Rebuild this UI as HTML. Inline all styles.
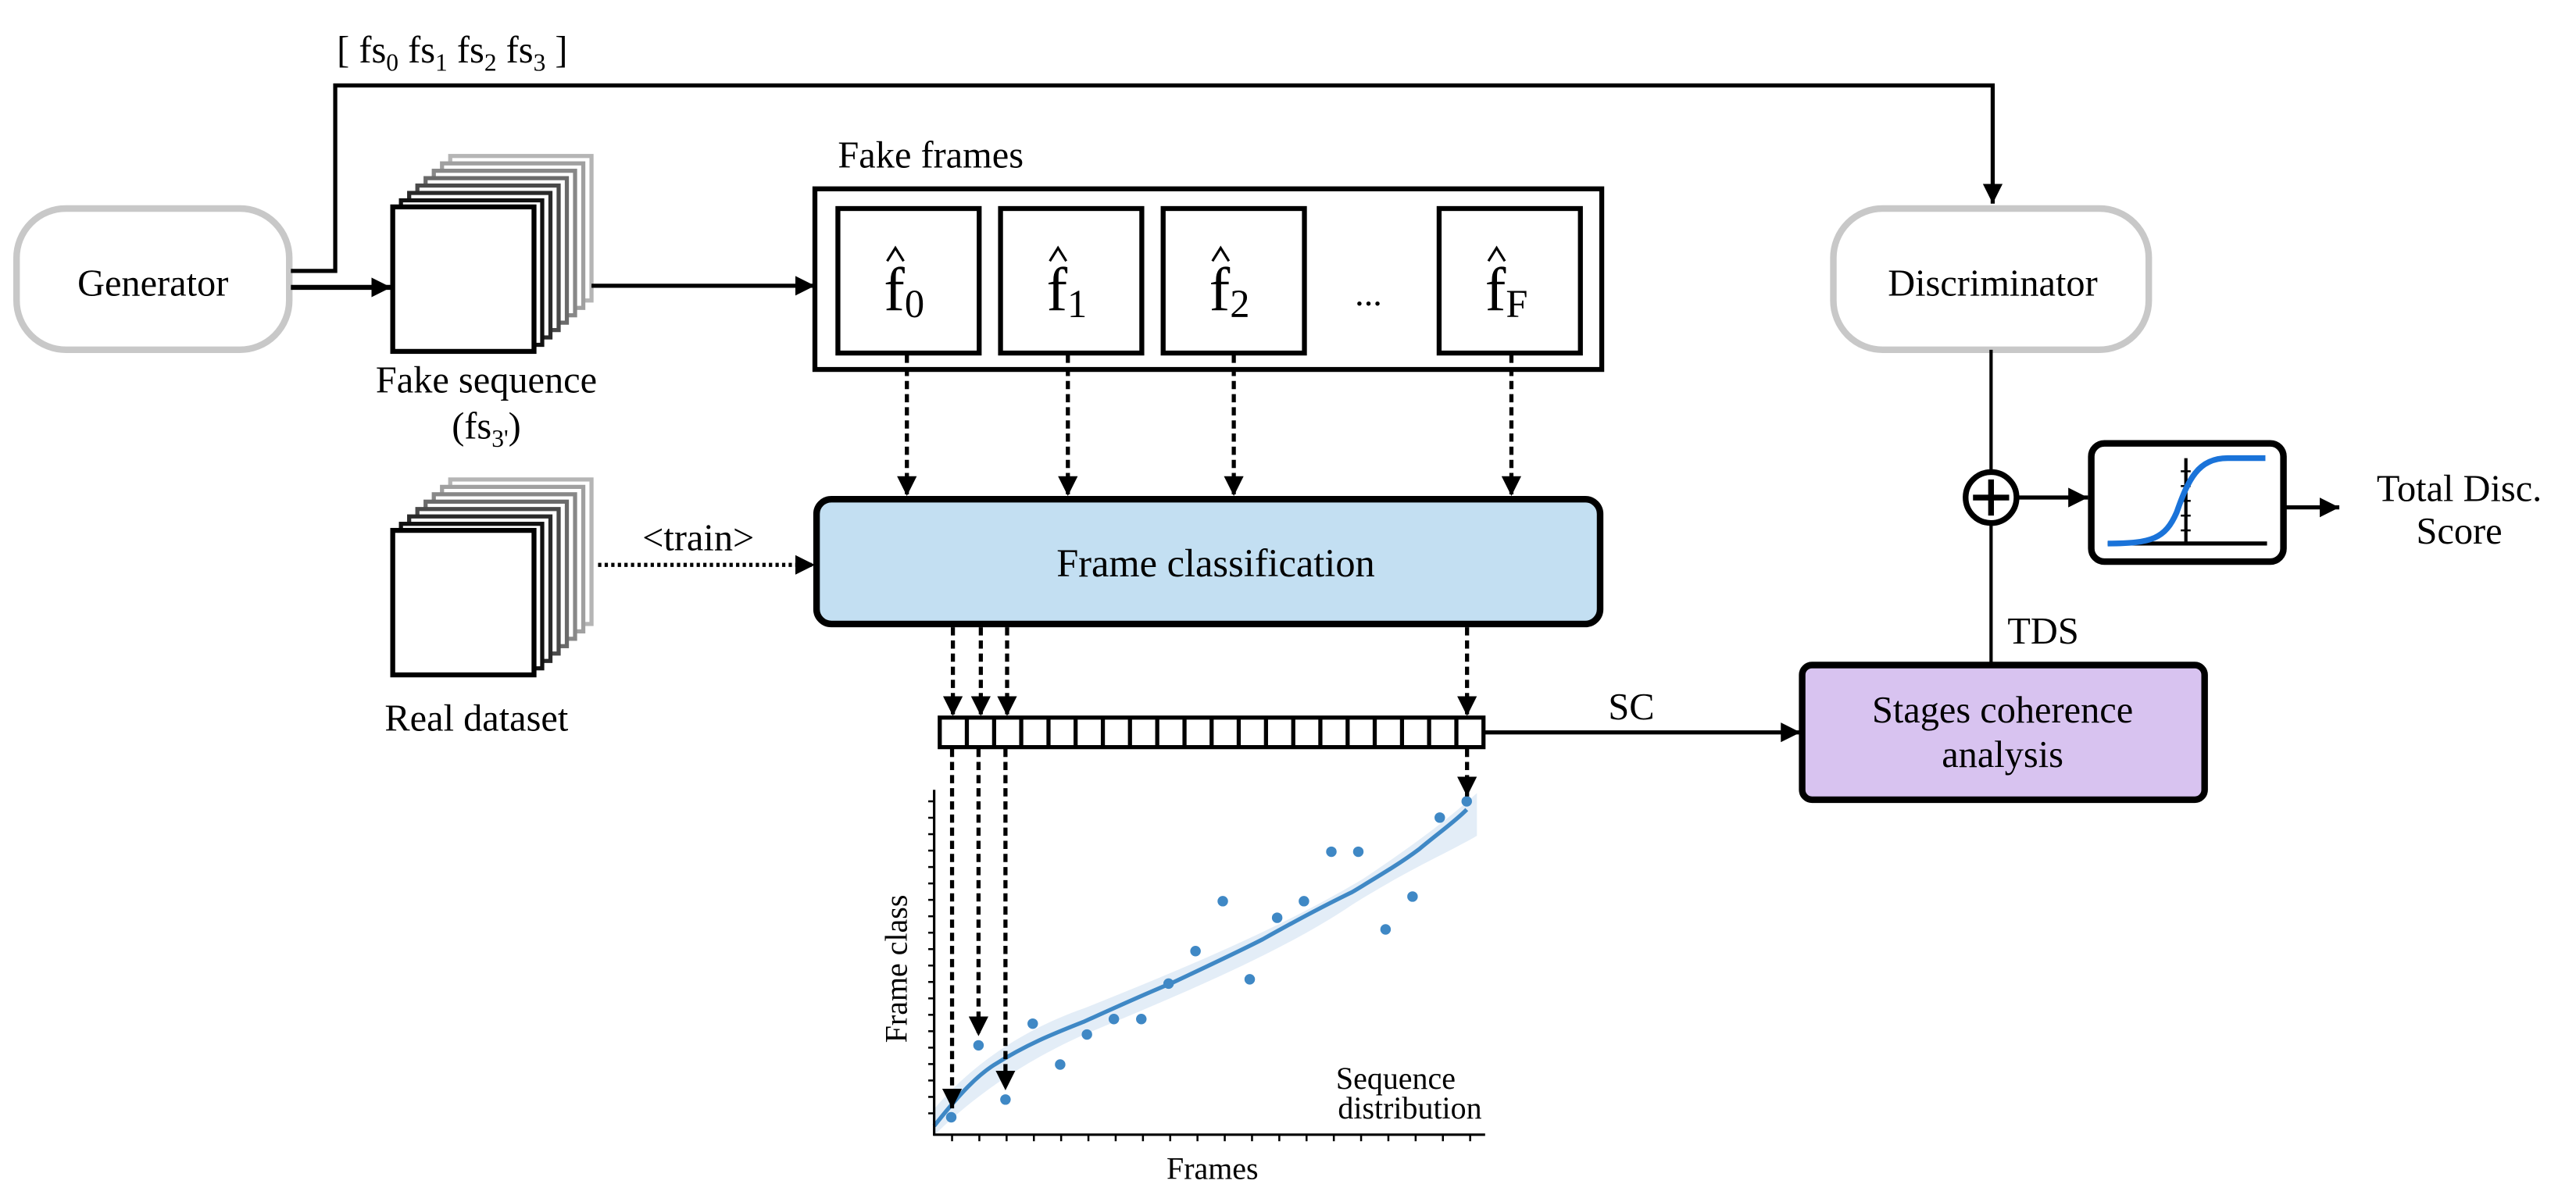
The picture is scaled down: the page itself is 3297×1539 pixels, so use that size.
<!DOCTYPE html>
<html><head><meta charset="utf-8"><style>
html,body{margin:0;padding:0;background:#fff;}
svg{display:block;font-family:"Liberation Serif","DejaVu Serif",serif;}
svg text{font-family:"Liberation Serif","DejaVu Serif",serif;fill:#000;}
</style></head><body>
<svg width="3297" height="1539" viewBox="0 0 1568 732" xmlns="http://www.w3.org/2000/svg" font-family="Liberation Serif, DejaVu Serif, serif">
<defs>
<marker id="ah" viewBox="0 0 10 10" refX="10" refY="5" markerWidth="12" markerHeight="12" markerUnits="userSpaceOnUse" orient="auto"><path d="M0,0 L10,5 L0,10 z" fill="#000"/></marker>
</defs>
<rect width="1568" height="732" fill="#fff"/>

<rect x="10" y="127" width="166" height="86" rx="30" fill="#fff" stroke="#c8c8c8" stroke-width="4"/>
<text x="93" y="180" font-size="23" text-anchor="middle" font-family="Liberation Serif, serif">Generator</text>

<polyline points="177,165 204,165 204,52 1213,52 1213,124" fill="none" stroke="#000" stroke-width="2.5" marker-end="url(#ah)"/>
<text x="205" y="38" font-size="23" font-family="Liberation Serif, serif">[ fs<tspan font-size="15" dy="5">0</tspan><tspan dy="-5"> fs</tspan><tspan font-size="15" dy="5">1</tspan><tspan dy="-5"> fs</tspan><tspan font-size="15" dy="5">2</tspan><tspan dy="-5"> fs</tspan><tspan font-size="15" dy="5">3</tspan><tspan dy="-5"> ]</tspan></text>
<line x1="177" y1="175" x2="238" y2="175" stroke="#000" stroke-width="3" marker-end="url(#ah)"/>

<g fill="#fff" stroke-width="2.5">
<rect x="274" y="95" width="86" height="88" stroke="#b5b5b5"/>
<rect x="269" y="99.5" width="86" height="88" stroke="#a0a0a0"/>
<rect x="264" y="104" width="86" height="88" stroke="#888"/>
<rect x="259" y="108.5" width="86" height="88" stroke="#6a6a6a"/>
<rect x="254" y="113" width="86" height="88" stroke="#4a4a4a"/>
<rect x="249" y="117.5" width="86" height="88" stroke="#2a2a2a"/>
<rect x="244" y="122" width="86" height="88" stroke="#111"/>
<rect x="239" y="126" width="86" height="88" stroke="#000" stroke-width="3"/>
</g>
<g font-family="Liberation Serif, serif" font-size="23">
<text x="296" y="239" text-anchor="middle">Fake sequence</text>
<text x="296" y="267" text-anchor="middle">(fs<tspan font-size="15" dy="5">3'</tspan><tspan dy="-5">)</tspan></text>
</g>

<line x1="360" y1="174" x2="496" y2="174" stroke="#000" stroke-width="2.5" marker-end="url(#ah)"/>

<text x="510" y="102" font-size="23" font-family="Liberation Serif, serif">Fake frames</text>
<rect x="496" y="115" width="479" height="110" fill="#fff" stroke="#000" stroke-width="3"/>
<g fill="#fff" stroke="#000" stroke-width="3">
<rect x="510" y="127" width="86" height="88"/>
<rect x="609" y="127" width="86" height="88"/>
<rect x="708" y="127" width="86" height="88"/>
<rect x="876" y="127" width="86" height="88"/>
</g>
<g font-size="38" font-family="Liberation Serif, serif">
<text x="538" y="189">f<tspan font-size="24" dy="4">0</tspan></text>
<text x="637" y="189">f<tspan font-size="24" dy="4">1</tspan></text>
<text x="736" y="189">f<tspan font-size="24" dy="4">2</tspan></text>
<text x="904" y="189">f<tspan font-size="24" dy="4">F</tspan></text>
</g>
<g fill="none" stroke="#000" stroke-width="1.5">
<polyline points="540,159 545,151 550,159"/>
<polyline points="639,159 644,151 649,159"/>
<polyline points="738,159 743,151 748,159"/>
<polyline points="906,159 911,151 916,159"/>
</g>
<text x="833" y="186" font-size="22" text-anchor="middle" font-family="Liberation Serif, serif">...</text>

<g stroke="#000" stroke-width="2.5" stroke-dasharray="5 3" marker-end="url(#ah)">
<line x1="552" y1="216" x2="552" y2="302"/>
<line x1="650" y1="216" x2="650" y2="302"/>
<line x1="751" y1="216" x2="751" y2="302"/>
<line x1="920" y1="216" x2="920" y2="302"/>
</g>

<rect x="497" y="304" width="477" height="76" rx="9" fill="#c3dff2" stroke="#000" stroke-width="4"/>
<text x="740" y="351" font-size="24" text-anchor="middle" font-family="Liberation Serif, serif">Frame classification</text>

<g fill="#fff" stroke-width="2.5">
<rect x="274" y="292" width="86" height="88" stroke="#b5b5b5"/>
<rect x="269" y="296.5" width="86" height="88" stroke="#a0a0a0"/>
<rect x="264" y="301" width="86" height="88" stroke="#888"/>
<rect x="259" y="305.5" width="86" height="88" stroke="#6a6a6a"/>
<rect x="254" y="310" width="86" height="88" stroke="#4a4a4a"/>
<rect x="249" y="314.5" width="86" height="88" stroke="#2a2a2a"/>
<rect x="244" y="319" width="86" height="88" stroke="#111"/>
<rect x="239" y="323" width="86" height="88" stroke="#000" stroke-width="3"/>
</g>
<text x="290" y="445" font-size="23" text-anchor="middle" font-family="Liberation Serif, serif">Real dataset</text>
<line x1="364" y1="344" x2="496" y2="344" stroke="#000" stroke-width="2.5" stroke-dasharray="2 2" marker-end="url(#ah)"/>
<text x="425" y="335" font-size="23" text-anchor="middle" font-family="Liberation Serif, serif">&lt;train&gt;</text>

<g stroke="#000" stroke-width="2.5" stroke-dasharray="5 3" marker-end="url(#ah)">
<line x1="580" y1="382" x2="580" y2="436"/>
<line x1="597" y1="382" x2="597" y2="436"/>
<line x1="613" y1="382" x2="613" y2="436"/>
<line x1="893" y1="382" x2="893" y2="436"/>
</g>

<rect x="572" y="437" width="331" height="18" fill="#fff" stroke="#000" stroke-width="2.5"/>
<g stroke="#000" stroke-width="2.5">
<line x1="588.5" y1="437" x2="588.5" y2="455"/><line x1="605.1" y1="437" x2="605.1" y2="455"/>
<line x1="621.6" y1="437" x2="621.6" y2="455"/><line x1="638.2" y1="437" x2="638.2" y2="455"/>
<line x1="654.7" y1="437" x2="654.7" y2="455"/><line x1="671.3" y1="437" x2="671.3" y2="455"/>
<line x1="687.8" y1="437" x2="687.8" y2="455"/><line x1="704.4" y1="437" x2="704.4" y2="455"/>
<line x1="721" y1="437" x2="721" y2="455"/><line x1="737.5" y1="437" x2="737.5" y2="455"/>
<line x1="754" y1="437" x2="754" y2="455"/><line x1="770.6" y1="437" x2="770.6" y2="455"/>
<line x1="787.2" y1="437" x2="787.2" y2="455"/><line x1="803.7" y1="437" x2="803.7" y2="455"/>
<line x1="820.3" y1="437" x2="820.3" y2="455"/><line x1="836.8" y1="437" x2="836.8" y2="455"/>
<line x1="853.4" y1="437" x2="853.4" y2="455"/><line x1="869.9" y1="437" x2="869.9" y2="455"/>
<line x1="886.5" y1="437" x2="886.5" y2="455"/>
</g>
<line x1="903" y1="446" x2="1096" y2="446" stroke="#000" stroke-width="2.5" marker-end="url(#ah)"/>
<text x="993" y="438" font-size="23" text-anchor="middle" font-family="Liberation Serif, serif">SC</text>

<path d="M568,676 C590,650 620,628 660,614 C720,590 780,565 830,535 C860,515 880,500 899,483 L899,509 C880,520 860,528 823,551 C780,580 720,605 660,630 C620,648 590,670 568,692 Z" fill="#dce9f5" opacity="0.8"/>
<path d="M568.6,685.7 C585,665 595,655 604.9,648.6 C625,636 640,630 659.5,622.3 C680,613 700,604 714,598.3 C740,586 755,579 768.6,572 C790,560 805,552 823,543.3 C840,533 852,526 864,517 C876,507 886,500 892.8,493" fill="none" stroke="#3f88c5" stroke-width="2.5"/>
<g fill="#3f88c5">
<circle cx="579" cy="680.4" r="3.2"/><circle cx="595.6" cy="636.6" r="3.2"/><circle cx="612" cy="669.6" r="3.2"/>
<circle cx="628.6" cy="623.4" r="3.2"/><circle cx="645.3" cy="648.3" r="3.2"/><circle cx="661.6" cy="630" r="3.2"/>
<circle cx="678" cy="620.6" r="3.2"/><circle cx="694.7" cy="620.6" r="3.2"/><circle cx="711.3" cy="599" r="3.2"/>
<circle cx="727.7" cy="579.2" r="3.2"/><circle cx="744.3" cy="548.8" r="3.2"/><circle cx="760.7" cy="596.4" r="3.2"/>
<circle cx="777.4" cy="558.9" r="3.2"/><circle cx="793.7" cy="548.8" r="3.2"/><circle cx="810.4" cy="518.7" r="3.2"/>
<circle cx="826.8" cy="518.7" r="3.2"/><circle cx="843.4" cy="566" r="3.2"/><circle cx="859.8" cy="546" r="3.2"/>
<circle cx="876.4" cy="497.9" r="3.2"/><circle cx="892.8" cy="488" r="3.2"/>
</g>
<g stroke="#000" stroke-width="1.5">
<line x1="568.6" y1="481" x2="568.6" y2="691.5"/>
<line x1="568" y1="691" x2="904" y2="691"/>
</g>
<g stroke="#000" stroke-width="1.2">
<line x1="565" y1="488" x2="568.6" y2="488"/><line x1="565" y1="498" x2="568.6" y2="498"/><line x1="565" y1="508" x2="568.6" y2="508"/>
<line x1="565" y1="518" x2="568.6" y2="518"/><line x1="565" y1="528" x2="568.6" y2="528"/><line x1="565" y1="538" x2="568.6" y2="538"/>
<line x1="565" y1="548" x2="568.6" y2="548"/><line x1="565" y1="558" x2="568.6" y2="558"/><line x1="565" y1="568" x2="568.6" y2="568"/>
<line x1="565" y1="578" x2="568.6" y2="578"/><line x1="565" y1="588" x2="568.6" y2="588"/><line x1="565" y1="598" x2="568.6" y2="598"/>
<line x1="565" y1="608" x2="568.6" y2="608"/><line x1="565" y1="618" x2="568.6" y2="618"/><line x1="565" y1="628" x2="568.6" y2="628"/>
<line x1="565" y1="638" x2="568.6" y2="638"/><line x1="565" y1="648" x2="568.6" y2="648"/><line x1="565" y1="658" x2="568.6" y2="658"/>
<line x1="565" y1="668" x2="568.6" y2="668"/><line x1="565" y1="678" x2="568.6" y2="678"/>
<line x1="579.5" y1="691" x2="579.5" y2="695"/><line x1="596.1" y1="691" x2="596.1" y2="695"/><line x1="612.7" y1="691" x2="612.7" y2="695"/>
<line x1="629.3" y1="691" x2="629.3" y2="695"/><line x1="645.9" y1="691" x2="645.9" y2="695"/><line x1="662.5" y1="691" x2="662.5" y2="695"/>
<line x1="679.1" y1="691" x2="679.1" y2="695"/><line x1="695.7" y1="691" x2="695.7" y2="695"/><line x1="712.3" y1="691" x2="712.3" y2="695"/>
<line x1="728.9" y1="691" x2="728.9" y2="695"/><line x1="745.5" y1="691" x2="745.5" y2="695"/><line x1="762.1" y1="691" x2="762.1" y2="695"/>
<line x1="778.7" y1="691" x2="778.7" y2="695"/><line x1="795.3" y1="691" x2="795.3" y2="695"/><line x1="811.9" y1="691" x2="811.9" y2="695"/>
<line x1="828.5" y1="691" x2="828.5" y2="695"/><line x1="845.1" y1="691" x2="845.1" y2="695"/><line x1="861.7" y1="691" x2="861.7" y2="695"/>
<line x1="878.3" y1="691" x2="878.3" y2="695"/><line x1="894.9" y1="691" x2="894.9" y2="695"/>
</g>
<g stroke="#000" stroke-width="2.5" stroke-dasharray="5 3" marker-end="url(#ah)">
<line x1="579.5" y1="456" x2="579.5" y2="675"/>
<line x1="595.6" y1="456" x2="595.6" y2="631"/>
<line x1="612" y1="456" x2="612" y2="664"/>
<line x1="893" y1="456" x2="893" y2="485"/>
</g>
<g font-family="Liberation Serif, serif" font-size="19">
<text x="552" y="590" text-anchor="middle" transform="rotate(-90 552 590)">Frame class</text>
<text x="738" y="718" text-anchor="middle">Frames</text>
<text x="886" y="663" text-anchor="end">Sequence</text>
<text x="902" y="681" text-anchor="end">distribution</text>
</g>

<rect x="1116" y="127" width="192" height="86" rx="30" fill="#fff" stroke="#c8c8c8" stroke-width="4"/>
<text x="1213" y="180" font-size="23" text-anchor="middle" font-family="Liberation Serif, serif">Discriminator</text>
<line x1="1212" y1="213" x2="1212" y2="405" stroke="#000" stroke-width="2"/>
<circle cx="1212" cy="303" r="15.5" fill="#fff" stroke="#000" stroke-width="3.5"/>
<line x1="1201" y1="303" x2="1223" y2="303" stroke="#000" stroke-width="3.5"/>
<line x1="1212" y1="292" x2="1212" y2="314" stroke="#000" stroke-width="3.5"/>
<line x1="1228" y1="303" x2="1271" y2="303" stroke="#000" stroke-width="2.5" marker-end="url(#ah)"/>

<rect x="1273" y="270" width="117" height="72" rx="8" fill="#fff" stroke="#000" stroke-width="4"/>
<line x1="1330.6" y1="279" x2="1330.6" y2="331" stroke="#000" stroke-width="2"/>
<line x1="1283" y1="331" x2="1380" y2="331" stroke="#000" stroke-width="2.5"/>
<g stroke="#000" stroke-width="1.2">
<line x1="1327.5" y1="287" x2="1333.5" y2="287"/><line x1="1327.5" y1="296" x2="1333.5" y2="296"/>
<line x1="1327.5" y1="305" x2="1333.5" y2="305"/><line x1="1327.5" y1="314" x2="1333.5" y2="314"/>
<line x1="1327.5" y1="323" x2="1333.5" y2="323"/>
</g>
<path d="M1283,331 C1310,331 1318,328 1325,312 C1332,292 1338,279 1356,279 L1379,279" fill="none" stroke="#1a73d9" stroke-width="3.5"/>
<line x1="1391" y1="309" x2="1424" y2="309" stroke="#000" stroke-width="2.5" marker-end="url(#ah)"/>
<g font-family="Liberation Serif, serif" font-size="23">
<text x="1497" y="305" text-anchor="middle">Total Disc.</text>
<text x="1497" y="331" text-anchor="middle">Score</text>
<text x="1222" y="392">TDS</text>
</g>
<rect x="1097" y="405" width="245" height="82" rx="6" fill="#d8c3f0" stroke="#000" stroke-width="4"/>
<text x="1219" y="440" font-size="23" text-anchor="middle" font-family="Liberation Serif, serif">Stages coherence</text>
<text x="1219" y="467" font-size="23" text-anchor="middle" font-family="Liberation Serif, serif">analysis</text>
</svg>
</body></html>
